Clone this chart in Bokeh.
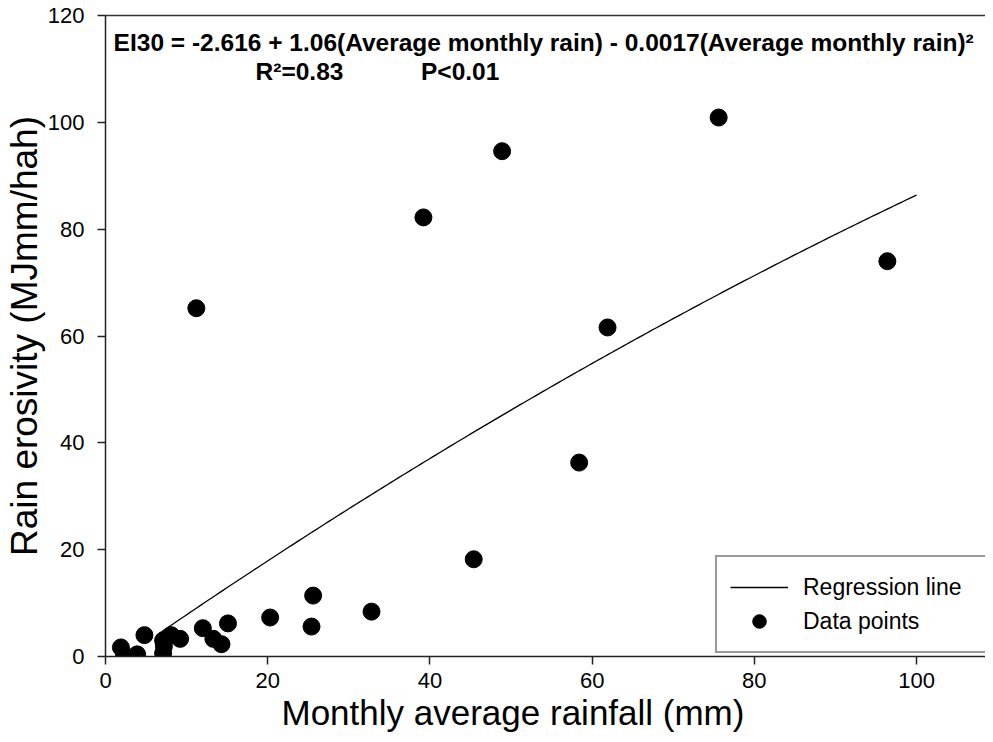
import numpy as np
from bokeh.plotting import figure
from bokeh.models import Label, LinearAxis, FixedTicker, Range1d, Legend, LegendItem, Title
from bokeh.embed import file_html
from bokeh.resources import INLINE

# Data
rain_mm = [1.9, 2.3, 3.9, 4.8, 7.1, 7.1, 7.2, 8.1, 9.2, 12.0, 13.3, 14.3, 15.1,
           20.3, 25.4, 25.6, 32.8, 45.4, 58.4, 61.9, 39.2, 48.9, 75.6, 96.4, 11.2]
erosivity = [1.7, 0.3, 0.4, 4.0, 3.0, 0.6, 1.9, 4.0, 3.3, 5.3, 3.3, 2.3, 6.2,
             7.3, 5.6, 11.4, 8.4, 18.2, 36.3, 61.6, 82.2, 94.6, 100.9, 74.0, 65.2]

# Regression coefficients printed on the chart
b0, b1, b2 = -2.616, 1.06, -0.0017
line_x_start, line_x_end = 6.5, 100.0

x_ticks = [0, 20, 40, 60, 80, 100]
y_ticks = [0, 20, 40, 60, 80, 100, 120]

FONT = "Liberation Sans"

p = figure(width=985, height=734, output_backend="svg", toolbar_location=None,
           x_range=Range1d(0, 108.5), y_range=Range1d(0, 120),
           min_border_left=104, min_border_right=0, min_border_top=15, min_border_bottom=78)
p.grid.visible = False
p.outline_line_color = None
p.background_fill_color = "white"

for ax in (p.xaxis[0], p.yaxis[0]):
    ax.axis_line_color = "#222222"
    ax.axis_line_width = 1.5
    ax.major_tick_line_width = 1.5
    ax.major_tick_line_color = "#222222"
    ax.major_tick_in = 0
    ax.major_tick_out = 8
    ax.minor_tick_line_color = None
    ax.major_label_text_font = FONT
    ax.major_label_text_font_size = "22px"
    ax.major_label_text_color = "black"
p.xaxis[0].ticker = FixedTicker(ticks=x_ticks)
p.yaxis[0].ticker = FixedTicker(ticks=y_ticks)
p.xaxis[0].major_label_standoff = 8
p.yaxis[0].major_label_standoff = 13

p.yaxis[0].axis_label = "Rain erosivity (MJmm/hah)"
p.yaxis[0].axis_label_text_font = FONT
p.yaxis[0].axis_label_text_font_size = "37px"
p.yaxis[0].axis_label_text_font_style = "normal"
p.yaxis[0].axis_label_text_color = "black"
p.yaxis[0].axis_label_standoff = 0

# top frame line
top = LinearAxis(ticker=FixedTicker(ticks=[]), axis_line_color="#333333", axis_line_width=1.5,
                 major_tick_line_color=None, minor_tick_line_color=None)
p.add_layout(top, "above")

# x axis title
xt = Title(text="Monthly average rainfall (mm)", align="left", offset=176,
           text_font=FONT, text_font_size="35px", text_font_style="normal",
           text_color="black", standoff=0)
p.add_layout(xt, "below")

# regression line
lx = np.linspace(line_x_start, line_x_end, 200)
ly = b0 + b1 * lx + b2 * lx ** 2
r_line = p.line(lx, ly, line_color="black", line_width=1.3)

r_pts = p.scatter(rain_mm, erosivity, size=17, fill_color="black", line_color="black")

legend = Legend(items=[LegendItem(label="Regression line", renderers=[r_line]),
                       LegendItem(label="Data points", renderers=[r_pts])],
                location=(610, 3))
legend.label_text_font = FONT
legend.label_text_font_size = "23px"
legend.label_text_color = "black"
legend.glyph_width = 58
legend.glyph_height = 34
legend.label_height = 24
legend.label_width = 200
legend.label_standoff = 15
legend.spacing = 0
legend.padding = 13
legend.margin = 0
legend.border_line_color = "#333333"
legend.border_line_width = 2
legend.background_fill_color = "white"
legend.background_fill_alpha = 1
p.add_layout(legend, "center")

# annotations
eq = Label(x=1.0, y=115.0, text="EI30 = -2.616 + 1.06(Average monthly rain) - 0.0017(Average monthly rain)²",
           text_font=FONT, text_font_size="24.5px", text_font_style="bold",
           text_align="left", text_baseline="middle", text_color="black")
r2 = Label(x=18.5, y=109.5, text="R²=0.83", text_font=FONT, text_font_size="24.5px",
           text_font_style="bold", text_align="left", text_baseline="middle", text_color="black")
pv = Label(x=38.9, y=109.5, text="P<0.01", text_font=FONT, text_font_size="24.5px",
           text_font_style="bold", text_align="left", text_baseline="middle", text_color="black")
for lab in (eq, r2, pv):
    p.add_layout(lab)

open("out.html", "w").write(file_html(p, INLINE))
